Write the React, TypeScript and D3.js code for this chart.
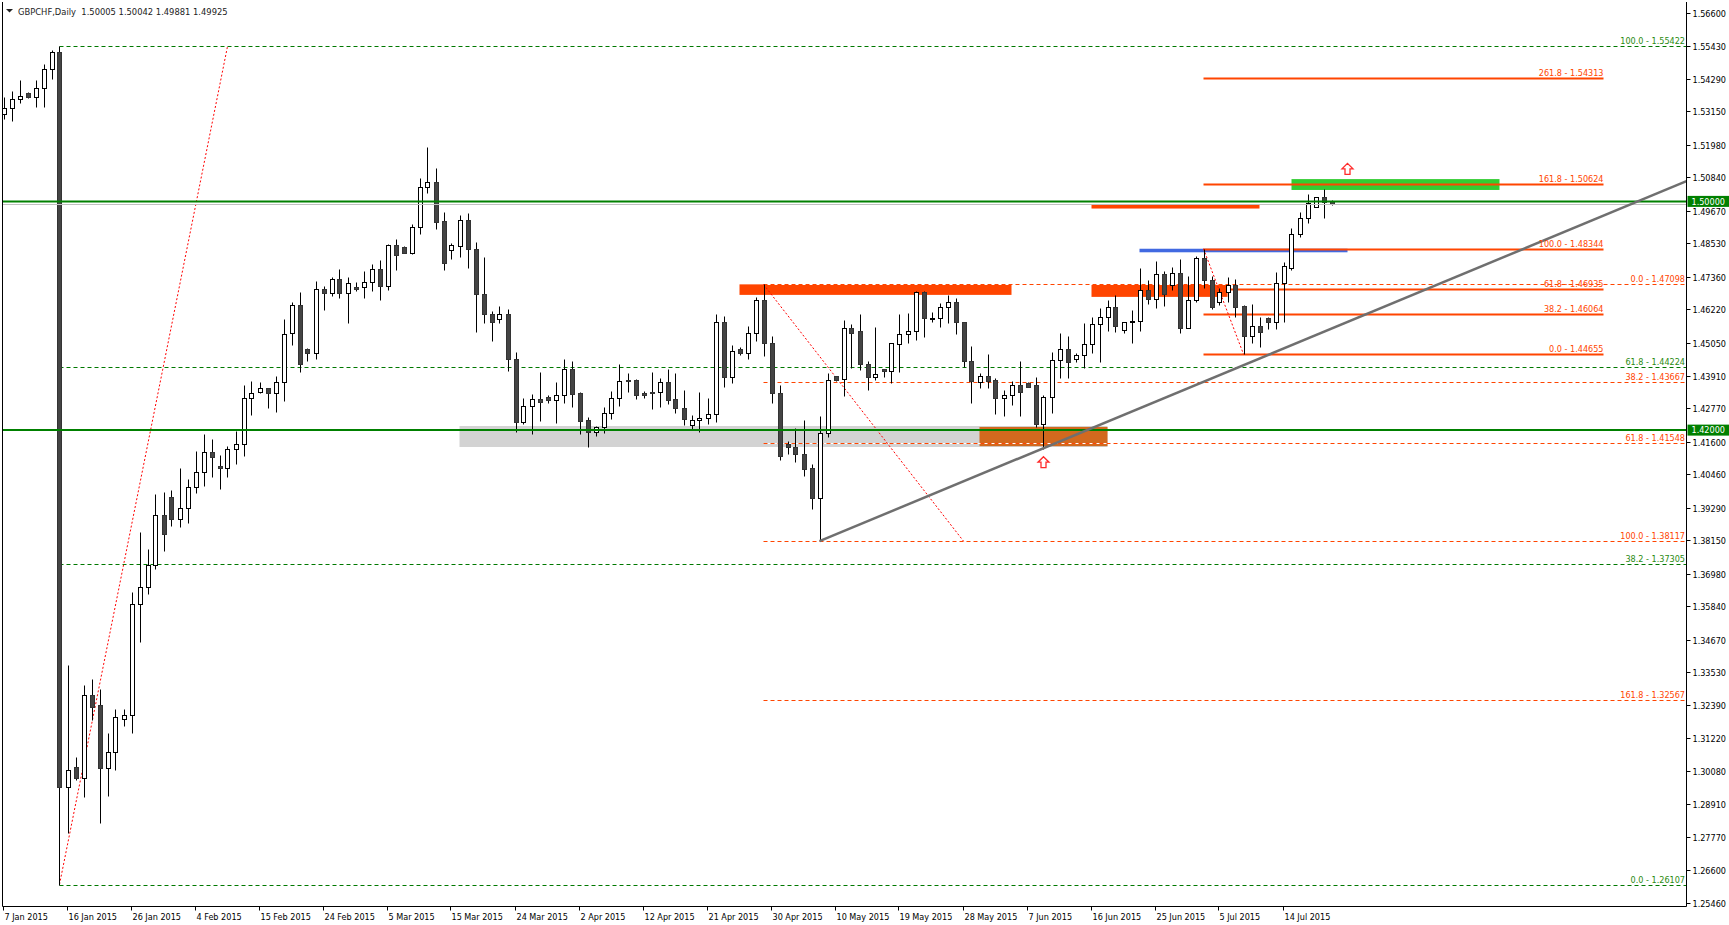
import React, { useEffect, useRef } from "react";
import * as d3 from "d3";

// open, high, low, close for every daily bar, first bar is 7 Jan 2015
type Bar = [number, number, number, number];

const candles: Bar[] = [
  [1.5305, 1.5366, 1.5287, 1.5326], [1.5326, 1.5386, 1.5282, 1.5359], [1.5359, 1.5425, 1.5345, 1.5368],
  [1.5379, 1.5383, 1.5363, 1.5366], [1.5366, 1.5425, 1.5331, 1.5396], [1.5396, 1.5481, 1.5331, 1.5462],
  [1.5462, 1.553, 1.5428, 1.5521], [1.5521, 1.55422, 1.26107, 1.2953], [1.2953, 1.3378, 1.279, 1.3011],
  [1.3022, 1.3058, 1.2976, 1.2984], [1.2984, 1.3308, 1.2918, 1.3272], [1.3272, 1.3329, 1.3186, 1.3233],
  [1.3239, 1.3293, 1.2827, 1.3019], [1.3019, 1.3142, 1.292, 1.3073], [1.3073, 1.3225, 1.3011, 1.3196],
  [1.3189, 1.3225, 1.3165, 1.3203], [1.3203, 1.3634, 1.3142, 1.3591], [1.3591, 1.3844, 1.346, 1.365],
  [1.365, 1.3784, 1.3628, 1.3727], [1.3727, 1.3977, 1.3715, 1.3902], [1.3902, 1.3984, 1.3778, 1.3838],
  [1.3965, 1.3991, 1.3865, 1.389], [1.389, 1.4066, 1.3862, 1.3927], [1.3927, 1.4028, 1.3876, 1.4],
  [1.4, 1.4126, 1.3981, 1.4052], [1.4052, 1.4186, 1.4006, 1.4122], [1.4122, 1.4169, 1.4035, 1.4105],
  [1.4073, 1.4113, 1.3995, 1.4066], [1.4066, 1.4144, 1.4037, 1.4133], [1.4133, 1.4197, 1.408, 1.415],
  [1.415, 1.4358, 1.4109, 1.4311], [1.4311, 1.4373, 1.4253, 1.4329], [1.4334, 1.4367, 1.4329, 1.4346],
  [1.4346, 1.4347, 1.4276, 1.4329], [1.4329, 1.4389, 1.4264, 1.4369], [1.4369, 1.4588, 1.4303, 1.4535],
  [1.4539, 1.4647, 1.4498, 1.4637], [1.4637, 1.4682, 1.4404, 1.443], [1.4483, 1.4486, 1.4443, 1.4469],
  [1.4469, 1.4722, 1.4449, 1.4693], [1.4693, 1.4704, 1.462, 1.4681], [1.4681, 1.4737, 1.467, 1.4727],
  [1.4727, 1.4764, 1.4661, 1.4681], [1.4681, 1.4736, 1.4576, 1.4714], [1.47, 1.4719, 1.4688, 1.4695],
  [1.47, 1.4757, 1.4663, 1.4719], [1.4719, 1.4781, 1.4688, 1.4762], [1.4762, 1.4795, 1.4655, 1.4703],
  [1.4703, 1.485, 1.4691, 1.4846], [1.4846, 1.4868, 1.476, 1.4814], [1.484, 1.4844, 1.4818, 1.4821],
  [1.4821, 1.492, 1.4816, 1.4909], [1.4909, 1.5083, 1.4886, 1.5049], [1.5049, 1.5191, 1.503, 1.5067],
  [1.5067, 1.5118, 1.4903, 1.4929], [1.4931, 1.4963, 1.476, 1.4783], [1.4829, 1.4856, 1.48, 1.4846],
  [1.4843, 1.4952, 1.4807, 1.4935], [1.4935, 1.4959, 1.4768, 1.4832], [1.4834, 1.4859, 1.4544, 1.4675],
  [1.4676, 1.4807, 1.4576, 1.4605], [1.4606, 1.4617, 1.4513, 1.4577], [1.4588, 1.4634, 1.4574, 1.4606],
  [1.4606, 1.4624, 1.4408, 1.4448], [1.4448, 1.4474, 1.4194, 1.4229], [1.4229, 1.4312, 1.4221, 1.4283],
  [1.4283, 1.4326, 1.4185, 1.4308], [1.4308, 1.4403, 1.4233, 1.4297], [1.4316, 1.4323, 1.4296, 1.4304],
  [1.4304, 1.4367, 1.4226, 1.4322], [1.4322, 1.4449, 1.4294, 1.4413], [1.4413, 1.4442, 1.428, 1.4327],
  [1.4329, 1.4334, 1.4185, 1.4233], [1.4234, 1.4247, 1.4142, 1.4194], [1.4194, 1.4214, 1.418, 1.421],
  [1.421, 1.4282, 1.4189, 1.4259], [1.4259, 1.4338, 1.4238, 1.4311], [1.4311, 1.4431, 1.4284, 1.4371],
  [1.4375, 1.4399, 1.4334, 1.4371], [1.4375, 1.438, 1.4309, 1.4324], [1.433, 1.4338, 1.4313, 1.4324],
  [1.4332, 1.4403, 1.4273, 1.4329], [1.4332, 1.4381, 1.428, 1.4367], [1.4367, 1.4414, 1.4291, 1.4306],
  [1.4308, 1.4399, 1.4261, 1.4276], [1.4276, 1.434, 1.4219, 1.4238], [1.4217, 1.4252, 1.42, 1.4234],
  [1.4234, 1.4332, 1.4192, 1.4241], [1.4241, 1.4311, 1.4222, 1.4255], [1.4255, 1.4605, 1.4229, 1.4577],
  [1.4577, 1.4599, 1.4352, 1.4385], [1.4385, 1.4497, 1.4364, 1.4476], [1.4483, 1.449, 1.4462, 1.4469],
  [1.4469, 1.4564, 1.4448, 1.4539], [1.4539, 1.4665, 1.4513, 1.4654], [1.4654, 1.47098, 1.446, 1.4504],
  [1.4504, 1.4529, 1.4294, 1.4331], [1.4329, 1.4357, 1.4095, 1.411], [1.4151, 1.4161, 1.4115, 1.414],
  [1.414, 1.4206, 1.4087, 1.4115], [1.4115, 1.4235, 1.4041, 1.4065], [1.4066, 1.408, 1.3923, 1.3964],
  [1.3964, 1.4249, 1.38117, 1.4189], [1.4189, 1.4399, 1.4177, 1.4375], [1.4388, 1.4389, 1.4372, 1.4375],
  [1.4378, 1.4585, 1.4319, 1.4556], [1.4556, 1.4571, 1.4416, 1.4541], [1.4546, 1.4606, 1.441, 1.443],
  [1.443, 1.4442, 1.434, 1.4387], [1.4387, 1.456, 1.4375, 1.4395], [1.4413, 1.4413, 1.4385, 1.4406],
  [1.4406, 1.4506, 1.4364, 1.4504], [1.45, 1.4606, 1.4404, 1.4535], [1.4535, 1.4609, 1.4506, 1.4546],
  [1.4546, 1.4686, 1.4515, 1.4682], [1.4682, 1.4686, 1.4527, 1.4591], [1.4589, 1.4612, 1.4577, 1.4591],
  [1.4591, 1.4644, 1.456, 1.463], [1.463, 1.4673, 1.4574, 1.4649], [1.4649, 1.4661, 1.4535, 1.4577],
  [1.4577, 1.4579, 1.442, 1.4443], [1.4443, 1.4494, 1.4296, 1.4373], [1.4367, 1.4399, 1.4346, 1.4389],
  [1.4389, 1.4466, 1.4346, 1.4373], [1.4375, 1.4381, 1.4256, 1.4311], [1.4311, 1.434, 1.425, 1.4323],
  [1.4322, 1.4372, 1.4288, 1.4357], [1.4357, 1.4442, 1.425, 1.4334], [1.4364, 1.4367, 1.435, 1.4352],
  [1.4357, 1.4385, 1.421, 1.4222], [1.4222, 1.4322, 1.4134, 1.4315], [1.4315, 1.4473, 1.4261, 1.4445],
  [1.4445, 1.4541, 1.4381, 1.4485], [1.4485, 1.4529, 1.4381, 1.4437], [1.4448, 1.4469, 1.4437, 1.4464],
  [1.4464, 1.4574, 1.4418, 1.45], [1.45, 1.4595, 1.4469, 1.457], [1.457, 1.4628, 1.4437, 1.4595],
  [1.4595, 1.4655, 1.4547, 1.463], [1.463, 1.4672, 1.4544, 1.4565], [1.4549, 1.4577, 1.4539, 1.4577],
  [1.4577, 1.462, 1.4504, 1.4583], [1.4583, 1.4767, 1.4547, 1.4689], [1.4689, 1.4724, 1.4641, 1.466],
  [1.466, 1.4792, 1.4628, 1.4745], [1.4745, 1.4758, 1.4635, 1.4677], [1.4707, 1.4771, 1.469, 1.4749],
  [1.4749, 1.4799, 1.454, 1.4558], [1.4558, 1.4739, 1.4556, 1.4654], [1.4654, 1.4809, 1.4649, 1.4801],
  [1.4801, 1.48344, 1.4698, 1.4726], [1.4726, 1.4739, 1.4624, 1.4632], [1.4649, 1.4698, 1.4637, 1.4682],
  [1.4682, 1.4737, 1.4647, 1.4707], [1.4707, 1.4727, 1.4597, 1.4632], [1.4633, 1.4639, 1.44655, 1.453],
  [1.453, 1.4641, 1.4506, 1.4563], [1.4563, 1.4597, 1.4492, 1.4544], [1.4591, 1.4595, 1.4554, 1.4579],
  [1.4579, 1.4753, 1.4554, 1.4714], [1.4714, 1.4788, 1.4578, 1.4774], [1.4768, 1.4907, 1.476, 1.4885],
  [1.4885, 1.4964, 1.4874, 1.4941], [1.4941, 1.5026, 1.4923, 1.4993], [1.4981, 1.5014, 1.4981, 1.5014],
  [1.5014, 1.5042, 1.4943, 1.4997], [1.50005, 1.50042, 1.49881, 1.49925],
];

// one date label every 8 bars
const dateLabels = [
  "7 Jan 2015", "16 Jan 2015", "26 Jan 2015", "4 Feb 2015", "15 Feb 2015", "24 Feb 2015", "5 Mar 2015",
  "15 Mar 2015", "24 Mar 2015", "2 Apr 2015", "12 Apr 2015", "21 Apr 2015", "30 Apr 2015", "10 May 2015",
  "19 May 2015", "28 May 2015", "7 Jun 2015", "16 Jun 2015", "25 Jun 2015", "5 Jul 2015", "14 Jul 2015",
];
const dateStep = 8;

const priceTicks = [
  1.566, 1.5543, 1.5429, 1.5315, 1.5198, 1.5084, 1.4967, 1.4853, 1.4736, 1.4622, 1.4505, 1.4391, 1.4277, 1.416,
  1.4046, 1.3929, 1.3815, 1.3698, 1.3584, 1.3467, 1.3353, 1.3239, 1.3122, 1.3008, 1.2891, 1.2777, 1.266, 1.2546,
];

const header = "GBPCHF,Daily  1.50005 1.50042 1.49881 1.49925";
const levelLines = [1.5, 1.42];
const bidPrice = 1.49925;

// fibonacci tools: levels, 0% / 100% prices, diagonal anchors [bar, price, bar, price]
const fibGreenLevels = [100, 61.8, 38.2, 0];
const fibGreenPrices = [1.26107, 1.55422];
const fibGreenDiag = [7, 1.26107, 28, 1.55422];

const fibRedLevels = [0, 38.2, 61.8, 100, 161.8];
const fibRedPrices = [1.47098, 1.38117];
const fibRedDiag = [95, 1.47098, 120, 1.38117];

const fibSolidLevels = [261.8, 161.8, 100, 61.8, 38.2, 0];
const fibSolidPrices = [1.44655, 1.48344];
const fibSolidDiag = [150, 1.48344, 155, 1.44655];
const fibSolidEnd = 200;

// zones: [bar from, bar to, price top, price bottom]
const zoneGray = [57, 138, 1.42144, 1.41409];
const zoneBrown = [122, 138, 1.4211, 1.4144];
const zoneRedA = [92, 126, 1.47098, 1.4673];
const zoneRedB = [136, 157, 1.4989, 1.4975];
const zoneRedC = [136, 153, 1.47098, 1.4666];
const zoneBlue = [142, 168, 1.48344, 1.4822];
const zoneGreen = [161, 187, 1.5078, 1.504];

const trendAnchors = [102, 1.38117, 169.6, 1.4597];
const arrowsUp = [[130, 1.4107], [168, 1.5133]];

const W = 1729;
const H = 925;
const left = 2.5;
const right = 1686.5;
const top = 2;
const bottom = 906.5;
const font = "'DejaVu Sans Condensed', 'DejaVu Sans', sans-serif";

const App: React.FC = () => {
  const ref = useRef<SVGSVGElement>(null);

  useEffect(() => {
    const svg = d3.select(ref.current);
    svg.selectAll("*").remove();

    const x = d3.scaleLinear().domain([0, candles.length - 1]).range([3.5, 3.5 + 8 * (candles.length - 1)]);
    const y = d3.scaleLinear().domain([1.2546, 1.566]).range([903, 12.7]);
    const py = (p: number) => Math.round(y(p)) + 0.5;

    svg.append("rect").attr("width", W).attr("height", H).attr("fill", "#fff");

    svg.append("defs").append("clipPath").attr("id", "plot")
      .append("rect").attr("x", left).attr("y", top).attr("width", right - left).attr("height", bottom - top);

    const plot = svg.append("g").attr("clip-path", "url(#plot)");

    // background zones
    const zone = (z: number[], color: string) => {
      plot.append("rect")
        .attr("x", x(z[0])).attr("width", x(z[1]) - x(z[0]))
        .attr("y", y(z[2])).attr("height", y(z[3]) - y(z[2]))
        .attr("fill", color);
    };
    zone(zoneGray, "#d3d3d3");
    zone(zoneBrown, "#d2691e");
    zone(zoneRedA, "#ff4500");
    zone(zoneRedB, "#ff4500");
    zone(zoneRedC, "#ff4500");
    zone(zoneBlue, "#4169e1");
    zone(zoneGreen, "#32cd32");

    // fibonacci lines
    const fib = (
      levels: number[], prices: number[], diag: number[], end: number | null,
      color: string, textColor: string, solid: boolean
    ) => {
      const x0 = x(Math.min(diag[0], diag[2]));
      const x1 = end === null ? right : x(end);
      levels.forEach((lv) => {
        const p = prices[0] + ((prices[1] - prices[0]) * lv) / 100;
        const yy = py(p);
        if (solid) {
          plot.append("line").attr("x1", x0).attr("x2", x1).attr("y1", yy).attr("y2", yy)
            .attr("stroke", color).attr("stroke-width", 2);
        } else {
          plot.append("line").attr("x1", x0).attr("x2", x1).attr("y1", yy).attr("y2", yy)
            .attr("stroke", "#fff").attr("stroke-width", 1);
          plot.append("line").attr("x1", x0).attr("x2", x1).attr("y1", yy).attr("y2", yy)
            .attr("stroke", color).attr("stroke-width", 1).attr("stroke-dasharray", "4,3");
        }
        svg.append("text")
          .attr("x", end === null ? right - 1.5 : x1).attr("y", yy - 2.5)
          .attr("text-anchor", "end").attr("font-family", font).attr("font-size", 9)
          .attr("fill", textColor)
          .text(`${lv.toFixed(1)} - ${p.toFixed(5)}`);
      });
      plot.append("line")
        .attr("x1", x(diag[0])).attr("y1", y(diag[1])).attr("x2", x(diag[2])).attr("y2", y(diag[3]))
        .attr("stroke", "#ff0000").attr("stroke-width", 1).attr("stroke-dasharray", "2,2");
    };
    fib(fibGreenLevels, fibGreenPrices, fibGreenDiag, null, "#007800", "#2a8a10", false);
    fib(fibRedLevels, fibRedPrices, fibRedDiag, null, "#ff4500", "#ff4500", false);
    fib(fibSolidLevels, fibSolidPrices, fibSolidDiag, fibSolidEnd, "#ff4500", "#ff4500", true);

    // candles
    const g = plot.append("g");
    candles.forEach((d, i) => {
      const cx = Math.round(x(i)) + 0.5;
      const [o, h, l, c] = d;
      g.append("line").attr("x1", cx).attr("x2", cx).attr("y1", py(h)).attr("y2", py(l))
        .attr("stroke", "#000").attr("stroke-width", 1);
      const t = py(Math.max(o, c));
      const b = py(Math.min(o, c));
      g.append("rect")
        .attr("x", cx - 2).attr("width", 4)
        .attr("y", t).attr("height", Math.max(b - t, 1))
        .attr("fill", c >= o ? "#fff" : "#444")
        .attr("stroke", c >= o ? "#000" : "#333").attr("stroke-width", 1);
    });

    // horizontal levels and bid line
    plot.append("line").attr("x1", left).attr("x2", right).attr("y1", py(bidPrice)).attr("y2", py(bidPrice))
      .attr("stroke", "#c0c0c0").attr("stroke-width", 1);
    levelLines.forEach((p) => {
      plot.append("line").attr("x1", left).attr("x2", right).attr("y1", y(p)).attr("y2", y(p))
        .attr("stroke", "#008000").attr("stroke-width", 2);
    });

    // trend line as a ray to the right edge
    const slope = (trendAnchors[3] - trendAnchors[1]) / (trendAnchors[2] - trendAnchors[0]);
    const iEnd = x.invert(right);
    plot.append("line")
      .attr("x1", x(trendAnchors[0])).attr("y1", y(trendAnchors[1]))
      .attr("x2", right).attr("y2", y(trendAnchors[1] + slope * (iEnd - trendAnchors[0])))
      .attr("stroke", "#6f6f6f").attr("stroke-width", 2.5);

    // arrows
    arrowsUp.forEach(([i, p]) => {
      const ax = x(i);
      const ay = y(p);
      plot.append("path")
        .attr("d", "M0,0 L5.5,5.5 L2.5,5.5 L2.5,11 L-2.5,11 L-2.5,5.5 L-5.5,5.5 Z")
        .attr("transform", `translate(${ax},${ay})`)
        .attr("fill", "#fff").attr("stroke", "#ff2a2a").attr("stroke-width", 1.3);
    });

    // frame and price axis
    svg.append("line").attr("x1", left).attr("x2", left).attr("y1", top).attr("y2", bottom)
      .attr("stroke", "#000");
    svg.append("line").attr("x1", right).attr("x2", right).attr("y1", top).attr("y2", bottom)
      .attr("stroke", "#000");
    svg.append("line").attr("x1", left).attr("x2", right).attr("y1", bottom).attr("y2", bottom)
      .attr("stroke", "#000");

    priceTicks.forEach((p) => {
      const yy = py(p);
      svg.append("line").attr("x1", right).attr("x2", right + 4).attr("y1", yy).attr("y2", yy)
        .attr("stroke", "#000");
      svg.append("text").attr("x", right + 6).attr("y", yy + 3.3)
        .attr("font-family", font).attr("font-size", 9).attr("fill", "#000")
        .text(p.toFixed(5));
    });

    levelLines.forEach((p) => {
      const yy = y(p);
      svg.append("rect").attr("x", right + 1).attr("y", yy - 5.5).attr("width", W - right - 1).attr("height", 11)
        .attr("fill", "#008000");
      svg.append("text").attr("x", right + 5).attr("y", yy + 3.3)
        .attr("font-family", font).attr("font-size", 9).attr("fill", "#fff")
        .text(p.toFixed(5));
    });

    // date axis
    dateLabels.forEach((lab, k) => {
      const xx = Math.round(x(k * dateStep)) - 0.5;
      svg.append("line").attr("x1", xx).attr("x2", xx).attr("y1", bottom).attr("y2", bottom + 4)
        .attr("stroke", "#000");
      svg.append("text").attr("x", xx + 1).attr("y", 920)
        .attr("font-family", font).attr("font-size", 9).attr("fill", "#000")
        .text(lab);
    });

    // header
    svg.append("path").attr("d", "M6,9 L13,9 L9.5,12.5 Z").attr("fill", "#222");
    svg.append("text").attr("x", 18).attr("y", 14.5)
      .attr("font-family", font).attr("font-size", 9.3).attr("fill", "#222")
      .attr("xml:space", "preserve").style("white-space", "pre")
      .text(header);
  }, []);

  return (
    <svg ref={ref} width={W} height={H} style={{ position: "absolute", left: 0, top: 0, display: "block" }} />
  );
};

export default App;
